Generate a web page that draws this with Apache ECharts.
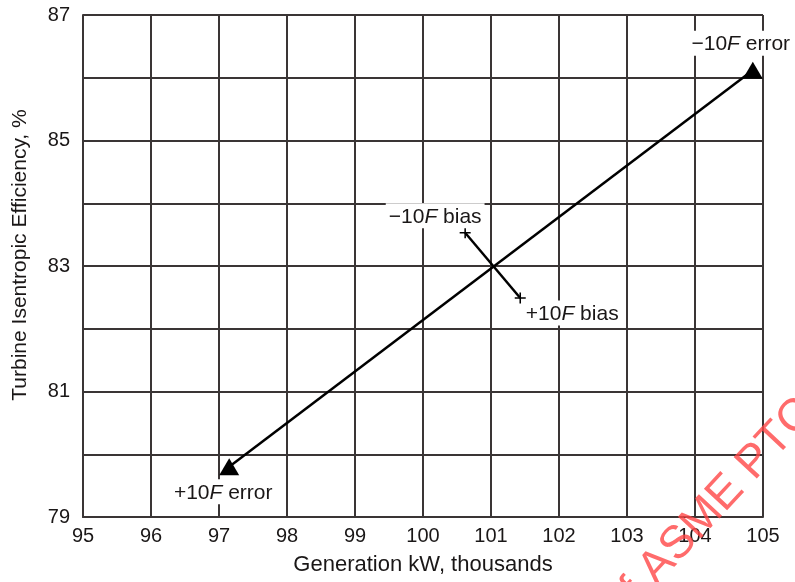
<!DOCTYPE html>
<html>
<head>
<meta charset="utf-8">
<script src="https://cdn.jsdelivr.net/npm/echarts@6/dist/echarts.min.js"></script>
<style>
html,body{margin:0;padding:0;background:#fff;}
#chart{width:795px;height:582px;}
</style>
</head>
<body>
<div id="chart"></div>
<script>
// ---- data ----
const xMin = 95, xMax = 105;
const yMin = 79, yMax = 87;
const yLabelValues = [79, 81, 83, 85, 87];

const errorX = [97.15, 104.85];
const errorY = [79.8, 86.12];
const errorLabels = ['{n|+10}{i|F}{n| error}', '{n|−10}{i|F}{n| error}'];

const biasX = [100.62, 101.43];
const biasY = [83.53, 82.49];
const biasLabels = ['{n|−10}{i|F}{n| bias}', '{n|+10}{i|F}{n| bias}'];

const baseX = [101];
const baseY = [83];
const baseLabels = ['Base'];

// ---- styles ----
const FONT = 'Liberation Sans, Arial, sans-serif';
const gridColor = '#3a3535';
const textColor = '#1a1717';
const rich = {
  n: { fontFamily: FONT, fontSize: 21, color: textColor, opacity: 1 },
  i: { fontFamily: FONT, fontSize: 21, color: textColor, fontStyle: 'italic', opacity: 1 }
};
const errorOffsets = [[-6, 25], [-12, -27]];
const biasOffsets = [[-30, -17], [52, 15]];
const baseOffsets = [[40, 1]];

function pts(xs, ys) { return xs.map((x, i) => [x, ys[i]]); }
function labelled(xs, ys, labels, offsets) {
  return xs.map((x, i) => ({
    value: [x, ys[i]],
    label: {
      show: true, position: 'inside', offset: offsets[i],
      formatter: labels[i], rich: rich, color: textColor, opacity: 1,
      backgroundColor: '#ffffff', padding: [3, 3, 1, 3]
    }
  }));
}

const crossPath = 'path://M0,4.3H10V5.7H0Z M4.3,0H5.7V10H4.3Z';

const chart = echarts.init(document.getElementById('chart'), null, { renderer: 'canvas' });
chart.setOption({
  animation: false,
  backgroundColor: '#fff',
  grid: { left: 83, right: 32, top: 15, bottom: 65, containLabel: false },
  xAxis: {
    type: 'value', min: xMin, max: xMax, interval: 1,
    name: 'Generation kW, thousands', nameLocation: 'middle', nameGap: 37,
    nameTextStyle: { fontFamily: FONT, fontSize: 22, color: textColor },
    axisLine: { show: true, lineStyle: { color: gridColor, width: 2 } },
    axisTick: { show: false },
    axisLabel: { fontFamily: FONT, fontSize: 20, color: textColor, margin: 9 },
    splitLine: { show: true, lineStyle: { color: gridColor, width: 2 } }
  },
  yAxis: {
    type: 'value', min: yMin, max: yMax, interval: 1,
    name: 'Turbine Isentropic Efficiency, %', nameLocation: 'middle', nameGap: 52,
    nameTextStyle: { fontFamily: FONT, fontSize: 21, color: textColor, padding: [0, 0, 0, 22] },
    axisLine: { show: true, lineStyle: { color: gridColor, width: 2 } },
    axisTick: { show: false },
    axisLabel: {
      fontFamily: FONT, fontSize: 20, color: textColor, margin: 13,
      formatter: v => (yLabelValues.indexOf(v) >= 0 ? String(v) : '')
    },
    splitLine: { show: true, lineStyle: { color: gridColor, width: 2 } }
  },
  series: [
    {
      type: 'line', data: pts(errorX, errorY), symbol: 'none', z: 3,
      lineStyle: { color: '#000', width: 2.5 }
    },
    {
      type: 'scatter', data: labelled(errorX, errorY, errorLabels, errorOffsets),
      symbol: 'triangle', symbolSize: [20, 17], z: 4,
      itemStyle: { color: '#000', opacity: 1 }
    },
    {
      type: 'line', data: pts(biasX, biasY), symbol: 'none', z: 3,
      lineStyle: { color: '#000', width: 2.5 }
    },
    {
      type: 'scatter', data: labelled(biasX, biasY, biasLabels, biasOffsets),
      symbol: crossPath, symbolSize: 11, z: 4,
      itemStyle: { color: '#000', opacity: 1 }
    },
    {
      type: 'scatter', data: labelled(baseX, baseY, baseLabels, baseOffsets),
      symbol: 'none', z: 4, itemStyle: { opacity: 1 }
    }
  ],
  graphic: [{
    type: 'text', x: 710, y: 510, rotation: 47 * Math.PI / 180, z: 100,
    style: {
      text: 'of ASME PTC', fontFamily: FONT, fontSize: 46,
      fill: 'rgba(255,70,70,0.8)', align: 'center', verticalAlign: 'middle'
    }
  }]
});
</script>
</body>
</html>
